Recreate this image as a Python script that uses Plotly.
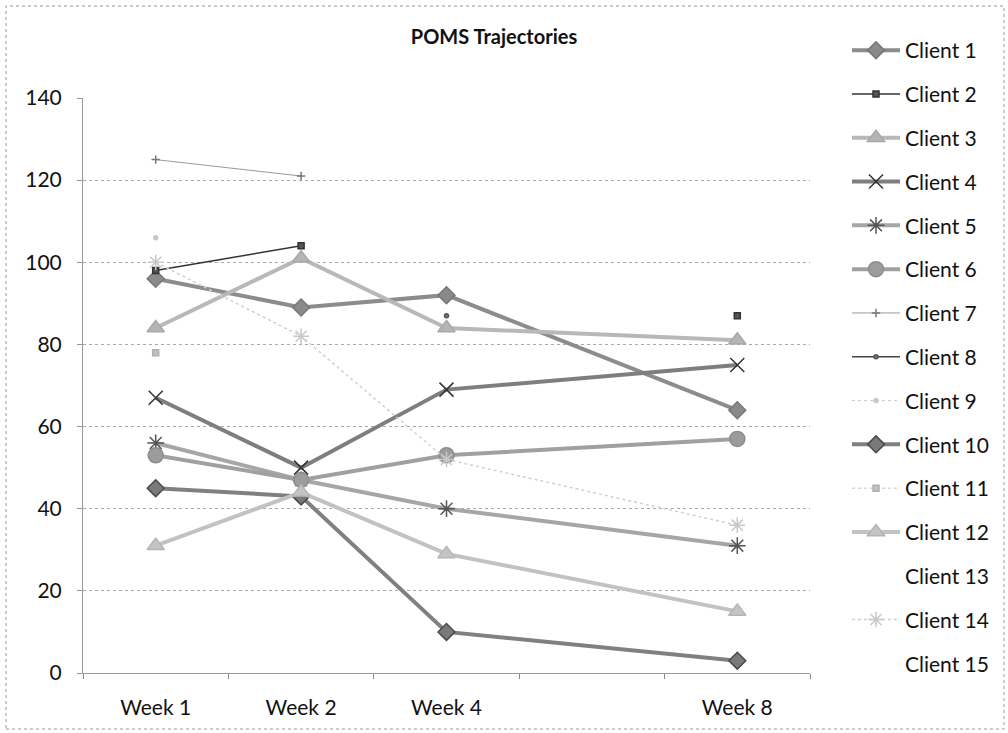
import plotly.graph_objects as go

# Assessment points (the blank slot stands for the week with no sessions)
weeks = ["Week 1", "Week 2", "Week 4", " ", "Week 8"]
obs_weeks = ["Week 1", "Week 2", "Week 4", "Week 8"]

# POMS total score per client at each assessment point (None = not assessed)
client_1 = [96, 89, 92, 64]
client_2 = [98, 104, None, 87]
client_3 = [84, 101, 84, 81]
client_4 = [67, 50, 69, 75]
client_5 = [56, 47, 40, 31]
client_6 = [53, 47, 53, 57]
client_7 = [125, 121, None, None]
client_8 = [None, None, 87, None]
client_9 = [106, None, None, None]
client_10 = [45, 43, 10, 3]
client_11 = [78, None, None, None]
client_12 = [31, 44, 29, 15]
client_13 = [None, None, None, None]
client_14 = [100, 82, 52, 36]
client_15 = [None, None, None, None]

names = [f"Client {i}" for i in range(1, 16)]
series = [client_1, client_2, client_3, client_4, client_5, client_6, client_7,
          client_8, client_9, client_10, client_11, client_12, client_13,
          client_14, client_15]

# line colour, line width, dash, marker symbol, marker size, marker fill, marker outline
styles = [
    ("#8c8c8c", 4, "solid", "diamond", 13, "#8a8a8a", "#777777"),
    ("#333333", 1.5, "solid", "square", 6, "#555555", "#333333"),
    ("#b8b8b8", 4, "solid", "triangle-up", 15, "#b5b5b5", "#a8a8a8"),
    ("#7e7e7e", 4, "solid", "x-thin", 14, "#333333", "#333333"),
    ("#a6a6a6", 4, "solid", "asterisk-open", 14, "#555555", "#555555"),
    ("#a0a0a0", 4, "solid", "circle", 15, "#9c9c9c", "#8c8c8c"),
    ("#9a9a9a", 1, "solid", "cross-thin", 6, "#777777", "#777777"),
    ("#444444", 1.5, "solid", "circle", 4, "#777777", "#555555"),
    ("#cccccc", 1, "dot", "circle", 4, "#c8c8c8", "#c8c8c8"),
    ("#808080", 4, "solid", "diamond", 13, "#7a7a7a", "#4a4a4a"),
    ("#c4c4c4", 1, "dot", "square", 6, "#c0c0c0", "#b0b0b0"),
    ("#c2c2c2", 4, "solid", "triangle-up", 15, "#c4c4c4", "#b5b5b5"),
    ("rgba(0,0,0,0)", 1, "solid", "circle", 1, "rgba(0,0,0,0)", "rgba(0,0,0,0)"),
    ("#d0d0d0", 1.5, "dot", "asterisk-open", 13, "#c8c8c8", "#c8c8c8"),
    ("rgba(0,0,0,0)", 1, "solid", "circle", 1, "rgba(0,0,0,0)", "rgba(0,0,0,0)"),
]

fig = go.Figure()
for i, (name, vals, st) in enumerate(zip(names, series, styles)):
    lc, lw, dash, sym, ms, mfill, mline = st
    fig.add_trace(go.Scatter(
        x=obs_weeks, y=vals, name=name, mode="lines+markers",
        connectgaps=False, legendgroup=f"g{i}",
        line=dict(color=lc, width=lw, dash=dash),
        marker=dict(symbol=sym, size=ms, color=mfill,
                    line=dict(color=mline, width=1.5)),
    ))

FONT = "Lato, Carlito, Calibri, sans-serif"
FS = 21

# Chart-area border (dotted, light gray)
W, H = 1008, 733
L, R, T, B = 83, 198, 98, 60
pw, ph = W - L - R, H - T - B
fig.add_shape(type="rect", xref="paper", yref="paper",
              x0=(6 - L) / pw, x1=(W - 4 - L) / pw,
              y0=-(H - 4 - T - ph) / ph, y1=1 + (T - 6) / ph,
              line=dict(color="#9a9a9a", width=1, dash="dot"), layer="below")

fig.update_layout(
    width=W, height=H,
    margin=dict(l=L, r=R, t=T, b=B),
    paper_bgcolor="white", plot_bgcolor="white",
    font=dict(family=FONT, size=FS, color="#111111"),
    title=dict(text="<b>POMS Trajectories</b>", x=494 / W, xanchor="center",
               y=1 - 37 / H, yanchor="middle",
               font=dict(family=FONT, size=20, color="#111111")),
    legend=dict(x=(847 - L) / pw, xanchor="left",
                y=1 + (T - 30) / ph, yanchor="top",
                font=dict(family=FONT, size=FS, color="#111111"),
                tracegroupgap=13.5, itemwidth=48, maxheight=720,
                bgcolor="rgba(0,0,0,0)"),
    showlegend=True,
)

fig.update_xaxes(
    type="category", categoryorder="array", categoryarray=weeks,
    range=[-0.5, 4.5], tickson="boundaries", ticks="outside", ticklen=5,
    tickcolor="#888888", showline=True, linecolor="#999999", linewidth=1,
    showgrid=False, zeroline=False, fixedrange=True, ticklabelstandoff=16,
    tickfont=dict(family=FONT, size=FS, color="#111111"),
)
fig.update_yaxes(
    range=[0, 140], dtick=20, tick0=0, ticks="outside", ticklen=5,
    tickcolor="#999999", showline=True, linecolor="#999999", linewidth=1,
    showgrid=True, gridcolor="#a8a8a8", gridwidth=1, griddash="dot",
    zeroline=False, fixedrange=True, ticklabelstandoff=11,
    tickfont=dict(family=FONT, size=FS, color="#111111"),
)

fig.write_html("out.html")
